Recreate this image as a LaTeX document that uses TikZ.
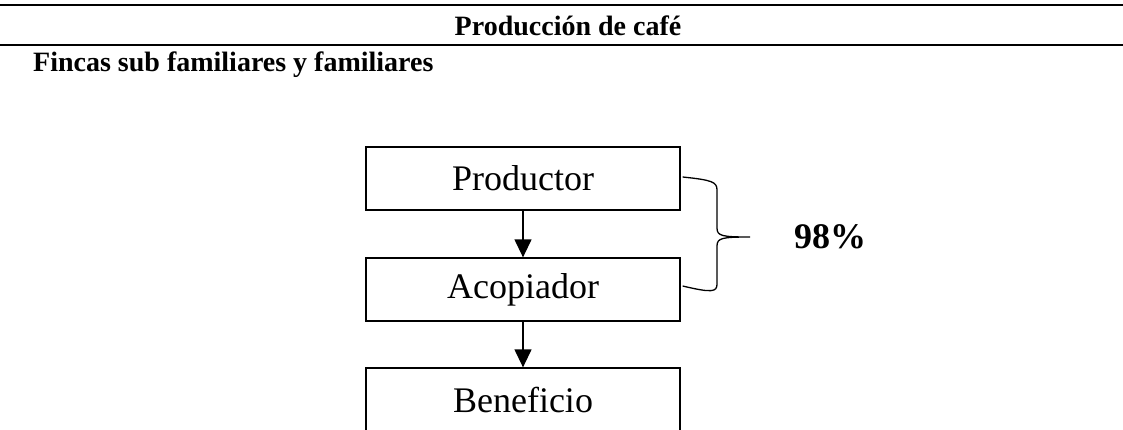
\documentclass[tikz,border=0pt]{standalone}
\usepackage{fontspec}
\setmainfont{Liberation Serif}
\usetikzlibrary{arrows.meta}
\begin{document}
\begin{tikzpicture}[x=1pt,y=-1pt,
  rulestyle/.style={line width=1.8pt},
  flowbox/.style={draw, line width=1.3pt, minimum width=314pt, minimum height=63pt, inner sep=0pt, font=\fontsize{36}{40}\selectfont},
  flowarrow/.style={line width=1.3pt, -{Triangle[length=18pt,width=17pt]}},
  headtext/.style={font=\bfseries\fontsize{28}{32}\selectfont, inner sep=0pt}]
\useasboundingbox (0,0) rectangle (1123,429);
\clip (0,0) rectangle (1123,429);
\coordinate (r1l) at (0,5);
\coordinate (r1r) at (1123,5);
\coordinate (r2l) at (0,45);
\coordinate (r2r) at (1123,45);
\draw[rulestyle] (r1l) -- (r1r);
\draw[rulestyle] (r2l) -- (r2r);
\node[headtext, anchor=base] (title) at (568,35) {Producción de café};
\node[headtext, anchor=base west] (fincas) at (33,71) {Fincas sub familiares y familiares};
\node[flowbox] (prod) at (523,178.5) {Productor};
\node[flowbox] (acop) at (523,289.5) {Acopiador};
\node[flowbox] (bene) at (523,399.5) {Beneficio};
\draw[flowarrow] (prod.south) -- (acop.north);
\draw[flowarrow] (acop.south) -- (bene.north);
\coordinate (bt) at ([xshift=2pt,yshift=1.5pt]prod.east);
\coordinate (bb) at ([xshift=2pt,yshift=3.5pt]acop.east);
\coordinate (tip) at (750,237);
\draw[line width=1.3pt] (bt) .. controls (712,180) and (717,182) .. (717,190) -- (717,228)
  .. controls (717,236) and (722,237) .. (tip)
  .. controls (722,237) and (717,238) .. (717,246) -- (717,284)
  .. controls (717,292) and (712,293) .. (bb);
\node[font=\bfseries\fontsize{36}{40}\selectfont, inner sep=0pt] (pct) at (830,237) {98\%};
\end{tikzpicture}
\end{document}
